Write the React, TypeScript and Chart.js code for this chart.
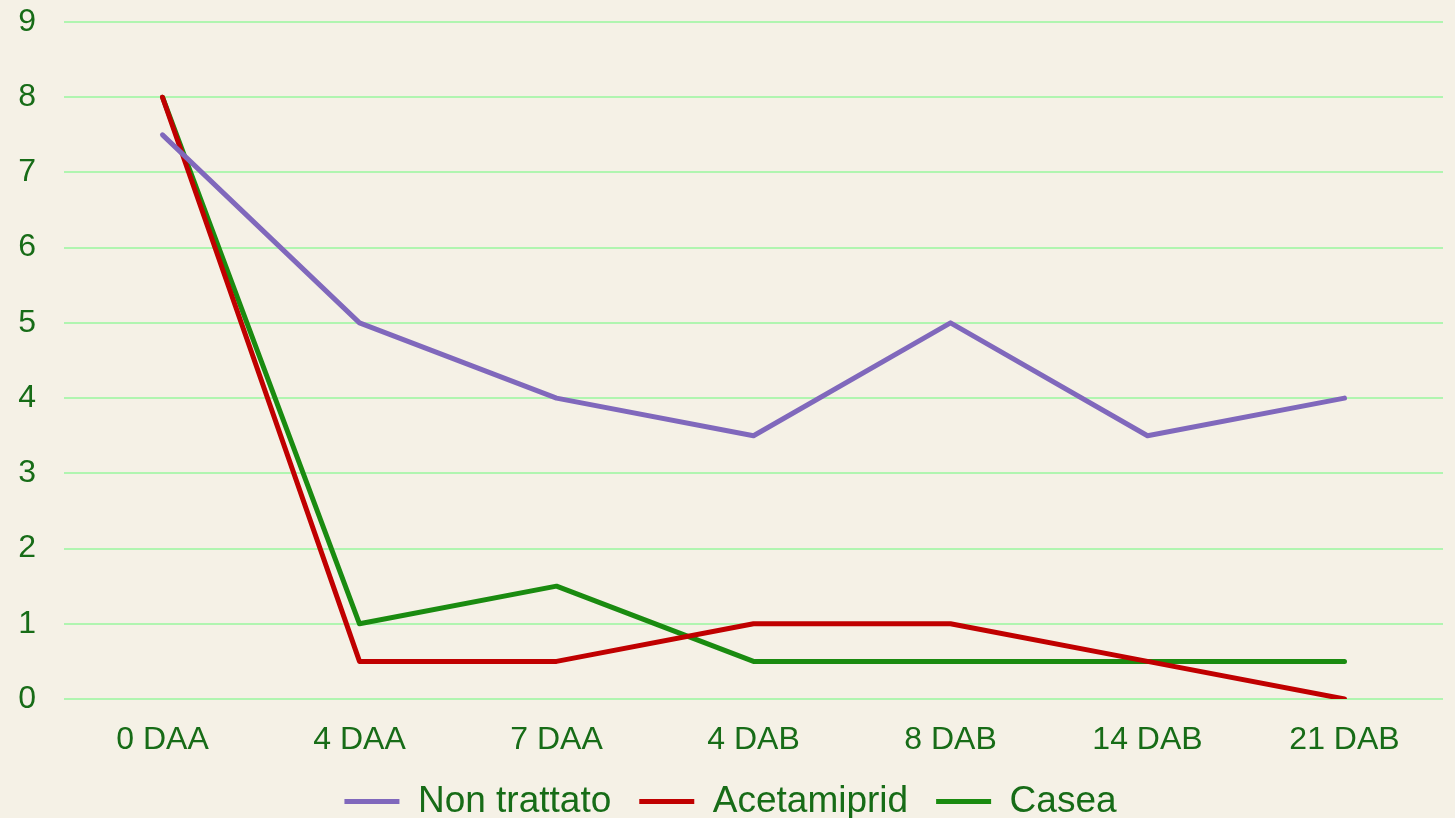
import React, { useEffect, useRef } from "react";
import { Chart, registerables } from "chart.js";

Chart.register(...registerables);

const categories = ["0 DAA", "4 DAA", "7 DAA", "4 DAB", "8 DAB", "14 DAB", "21 DAB"];
const nonTrattato = [7.5, 5, 4, 3.5, 5, 3.5, 4];
const acetamiprid = [8, 0.5, 0.5, 1, 1, 0.5, 0];
const casea = [8, 1, 1.5, 0.5, 0.5, 0.5, 0.5];
const seriesNames = ["Non trattato", "Acetamiprid", "Casea"];
const yTicks = [0, 1, 2, 3, 4, 5, 6, 7, 8, 9];

const BG = "#F5F1E6";
const TEXT = "#176C17";
const GRID = "#B0F5B0";
const FONT = "'Liberation Sans', Arial, sans-serif";

const bgPlugin = {
  id: "bg",
  beforeDraw(chart: any) {
    const ctx = chart.ctx;
    ctx.save();
    ctx.fillStyle = BG;
    ctx.fillRect(0, 0, chart.width, chart.height);
    ctx.restore();
  },
};

export default function App() {
  const ref = useRef<HTMLCanvasElement>(null);
  useEffect(() => {
    document.body.style.margin = "0";
    const mk = (label: string, data: number[], color: string) => ({
      label,
      data,
      borderColor: color,
      backgroundColor: color,
      borderWidth: 5,
      borderCapStyle: "round" as const,
      borderJoinStyle: "round" as const,
      pointRadius: 0,
      pointHoverRadius: 0,
      pointStyle: "line" as const,
      tension: 0,
      fill: false,
    });
    const chart = new Chart(ref.current!, {
      type: "line",
      data: {
        labels: categories,
        datasets: [
          mk(seriesNames[0], nonTrattato, "#8068BC"),
          mk(seriesNames[1], acetamiprid, "#C00000"),
          mk(seriesNames[2], casea, "#1A8B10"),
        ],
      },
      options: {
        animation: false,
        responsive: false,
        layout: { padding: { left: 18, right: 12, top: 0, bottom: -12 } },
        plugins: {
          tooltip: { enabled: false },
          legend: {
            position: "bottom",
            labels: {
              usePointStyle: true,
              pointStyleWidth: 55,
              boxHeight: 5,
              color: TEXT,
              padding: 28,
              font: { family: FONT, size: 37 },
            },
          },
        },
        scales: {
          x: {
            offset: true,
            grid: { display: false, drawTicks: false },
            border: { display: false },
            afterFit: (axis: any) => {
              axis.height = 56;
              axis.paddingLeft = 0;
              axis.paddingRight = 0;
            },
            ticks: {
              color: TEXT,
              padding: 22,
              maxRotation: 0,
              font: { family: FONT, size: 32 },
            },
          },
          y: {
            min: 0,
            max: 9,
            afterBuildTicks: (axis: any) => {
              axis.ticks = yTicks.map((v) => ({ value: v }));
            },
            afterFit: (axis: any) => {
              axis.width = 46;
              axis.paddingTop = 22;
              axis.paddingBottom = 0;
            },
            grid: { color: GRID, lineWidth: 2, drawTicks: false },
            border: { display: false },
            ticks: {
              color: TEXT,
              padding: 28,
              font: { family: FONT, size: 32 },
            },
          },
        },
      },
      plugins: [bgPlugin],
    });
    return () => chart.destroy();
  }, []);
  return (
    <div style={{ width: 1455, height: 818 }}>
      <canvas ref={ref} width={1455} height={818} style={{ display: "block" }} />
    </div>
  );
}
